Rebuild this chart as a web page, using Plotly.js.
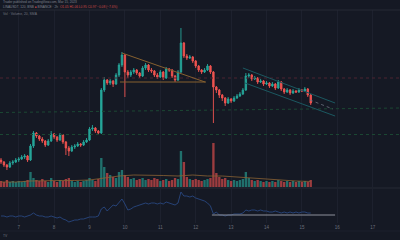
<!DOCTYPE html>
<html><head><meta charset="utf-8">
<script src="https://cdn.plot.ly/plotly-3.0.1.min.js"></script>
<style>html,body{margin:0;padding:0;background:#151924;}#chart{width:400px;height:240px;}</style>
</head><body><div id="chart"></div>
<script>
// 2h candles starting 2023-03-06 12:00
const firstCandle = Date.UTC(2023, 2, 6, 12);
const stepMs = 2 * 3600 * 1000;

const open = [0.40,0.38,0.35,0.33,0.37,0.38,0.40,0.41,0.43,0.44,
 0.40,0.54,0.67,0.64,0.61,0.59,0.55,0.59,0.66,0.63,
 0.60,0.65,0.58,0.52,0.49,0.53,0.54,0.56,0.55,0.58,
 0.60,0.71,0.72,0.69,0.67,1.10,1.20,1.17,1.19,1.16,
 1.25,1.35,1.45,1.28,1.25,1.28,1.30,1.27,1.24,1.32,
 1.35,1.30,1.29,1.25,1.23,1.28,1.22,1.31,1.30,1.24,
 1.20,1.28,1.57,1.44,1.42,1.43,1.39,1.34,1.30,1.28,
 1.30,1.34,1.28,1.13,1.10,1.05,1.02,0.97,1.01,0.99,
 1.02,1.04,1.06,1.10,1.24,1.25,1.21,1.22,1.18,1.19,
 1.16,1.17,1.14,1.16,1.12,1.18,1.11,1.08,1.10,1.07,
 1.09,1.08,1.10,1.09,1.11,1.05];
const close = [0.38,0.35,0.33,0.37,0.38,0.40,0.41,0.43,0.44,0.40,
 0.54,0.67,0.64,0.61,0.59,0.55,0.59,0.66,0.63,0.60,
 0.65,0.58,0.52,0.49,0.53,0.54,0.56,0.55,0.58,0.60,
 0.71,0.72,0.69,0.67,1.10,1.20,1.17,1.19,1.16,1.25,
 1.35,1.45,1.28,1.25,1.28,1.30,1.27,1.24,1.32,1.35,
 1.30,1.29,1.25,1.23,1.28,1.22,1.31,1.30,1.24,1.20,
 1.28,1.57,1.44,1.42,1.43,1.39,1.34,1.30,1.28,1.30,
 1.34,1.28,1.13,1.10,1.05,1.02,0.97,1.01,0.99,1.02,
 1.04,1.06,1.10,1.24,1.25,1.21,1.22,1.18,1.19,1.16,
 1.17,1.14,1.16,1.12,1.18,1.11,1.08,1.10,1.07,1.09,
 1.08,1.10,1.09,1.11,1.05,0.97];
const high = [0.42,0.39,0.36,0.39,0.40,0.42,0.43,0.45,0.46,0.45,
 0.56,0.69,0.68,0.65,0.63,0.60,0.61,0.69,0.67,0.64,
 0.67,0.66,0.59,0.54,0.55,0.56,0.58,0.57,0.60,0.62,
 0.73,0.75,0.73,0.70,1.12,1.23,1.21,1.21,1.20,1.27,
 1.37,1.48,1.46,1.30,1.30,1.32,1.31,1.28,1.34,1.37,
 1.36,1.32,1.30,1.27,1.30,1.29,1.33,1.32,1.31,1.25,
 1.30,1.72,1.58,1.46,1.45,1.44,1.40,1.35,1.31,1.32,
 1.36,1.35,1.29,1.14,1.11,1.06,1.03,1.03,1.02,1.04,
 1.06,1.08,1.12,1.27,1.27,1.26,1.24,1.23,1.21,1.20,
 1.19,1.18,1.18,1.17,1.20,1.19,1.12,1.12,1.11,1.11,
 1.10,1.12,1.11,1.13,1.12,1.06];
const low = [0.36,0.33,0.30,0.32,0.35,0.37,0.38,0.40,0.41,0.38,
 0.39,0.52,0.62,0.59,0.57,0.53,0.54,0.58,0.61,0.58,
 0.59,0.56,0.45,0.44,0.48,0.51,0.53,0.53,0.54,0.57,
 0.59,0.69,0.67,0.65,0.66,1.08,1.15,1.15,1.13,1.15,
 1.23,1.33,1.03,1.22,1.23,1.26,1.25,1.22,1.23,1.30,
 1.28,1.27,1.23,1.21,1.22,1.20,1.21,1.28,1.22,1.18,
 1.19,1.27,1.42,1.40,1.41,1.37,1.32,1.28,1.26,1.27,
 1.29,1.26,0.77,1.07,1.02,0.99,0.94,0.96,0.97,0.98,
 1.01,1.03,1.05,1.09,1.22,1.19,1.20,1.16,1.17,1.14,
 1.15,1.12,1.13,1.10,1.11,1.09,1.06,1.07,1.05,1.06,
 1.07,1.07,1.08,1.08,1.03,0.95];
const volume = [6,5,7,5,6,5,6,5,6,7,
 15,9,7,6,8,6,5,9,6,5,
 7,6,8,9,6,5,6,5,6,7,
 9,7,6,8,29,20,14,12,10,9,
 15,17,12,10,8,9,7,8,9,7,
 8,7,9,8,6,7,8,6,7,9,
 8,36,25,10,8,7,8,7,6,7,
 8,9,44,14,10,8,9,7,6,7,
 6,7,8,15,9,7,6,7,6,5,
 6,5,6,5,7,6,5,6,5,6,
 5,6,5,6,5,7];
// volume moving average, read every 5th candle
const volMaIndex = [0,5,10,15,20,25,30,35,40,45,50,55,60,65,70,75,80,85,90,95,100,105];
const volMa = [5,5,6,6.5,6.5,6.5,7,9,11,12,12,11.5,11,12,11,11,10,9,7.5,6.5,6,5.5];
const oscillator = [7,7,6,7,7,6,7,7,6,7,8,
 10,8,7,7,6,6,7,6,5,6,4,3,1,
 2,3,3,4,4,5,6,6,6,7,
 14,16,12,15,18,17,20,24,19,13,
 14,16,17,18,19,20,19,20,20,19,
 20,19,21,20,19,18,20,31,27,27,26,27,25,
 24,23,22,20,17,9,11,8,8,7,
 8,8,9,9,9,10,13,12,13,13,12,13,12,12,
 11,11,12,11,10,11,10,11,10,11,10,11,11,10,10];
const oscLevel = 8;
const oscLevelTimes = ['2023-03-12 11:00','2023-03-15 22:30'];

// drawings
const triTopTimes = ['2023-03-09 22:00','2023-03-12 06:20'];
const triTopPrices = [1.47, 1.18];
const triBaseTimes = ['2023-03-09 20:40','2023-03-12 07:00'];
const triBasePrice = 1.18;
const chanUpTimes = ['2023-03-13 08:00','2023-03-15 22:30'];
const chanUpPrices = [1.32, 0.97];
const chanLoTimes = ['2023-03-13 09:30','2023-03-15 22:30'];
const chanLoPrices = [1.17, 0.84];
const projTimes = ['2023-03-15 05:30','2023-03-15 21:00'];
const projPrices = [1.00, 0.91];
const redLevel = 1.22;
const greenLevelA = [0.875, 0.92];
const greenLevelB = 0.655;

const xRange = ['2023-03-06 11:19','2023-03-17 18:31'];

const fmt = ms => new Date(ms).toISOString().slice(0,19).replace('T',' ');
const times = open.map((_, i) => fmt(firstCandle + i * stepMs));

const UP = '#26a69a', DOWN = '#ef5350';
const volColors = open.map((o, i) => close[i] >= o ? 'rgba(38,166,154,0.62)' : 'rgba(239,83,80,0.62)');

const traces = [
 {type:'bar', x:times, y:volume, yaxis:'y2', marker:{color:volColors, line:{width:0}}, hoverinfo:'skip'},
 {type:'scatter', mode:'lines', x:volMaIndex.map(i => times[i]), y:volMa, yaxis:'y2', line:{color:'#8a6234', width:0.8}, hoverinfo:'skip'},
 {type:'candlestick', x:times, open:open, high:high, low:low, close:close,
  increasing:{line:{color:UP, width:0.9}, fillcolor:UP},
  decreasing:{line:{color:DOWN, width:0.9}, fillcolor:DOWN},
  whiskerwidth:0, hoverinfo:'skip'},
 {type:'scatter', mode:'lines', x:times, y:oscillator, yaxis:'y3', line:{color:'#2b4c8c', width:0.8}, hoverinfo:'skip'}
];

const PH = 213, PT = 10;
const py = pix => (PT + PH - pix) / PH;   // paper y for a pixel row (layout only)

const shapes = [
 {type:'line', xref:'paper', yref:'paper', x0:0, x1:1, y0:1, y1:1, line:{color:'#262a35', width:1}},
 {type:'line', xref:'paper', yref:'paper', x0:0, x1:1, y0:py(188), y1:py(188), line:{color:'#262a35', width:1}},
 {type:'line', xref:'paper', yref:'paper', x0:0, x1:1, y0:py(231), y1:py(231), line:{color:'#1d212c', width:1}},
 {type:'line', xref:'paper', yref:'y', x0:0, x1:1, y0:redLevel, y1:redLevel, line:{color:'#4d2530', width:1, dash:'dot'}},
 {type:'line', xref:'paper', yref:'y', x0:0, x1:1, y0:greenLevelA[0], y1:greenLevelA[1], line:{color:'#1b4733', width:1, dash:'dot'}},
 {type:'line', xref:'paper', yref:'y', x0:0, x1:1, y0:greenLevelB, y1:greenLevelB, line:{color:'#1b4733', width:1, dash:'dot'}},
 {type:'line', xref:'x', yref:'y', x0:triTopTimes[0], x1:triTopTimes[1], y0:triTopPrices[0], y1:triTopPrices[1], line:{color:'#86602f', width:1}},
 {type:'line', xref:'x', yref:'y', x0:triBaseTimes[0], x1:triBaseTimes[1], y0:triBasePrice, y1:triBasePrice, line:{color:'#86602f', width:1}},
 {type:'line', xref:'x', yref:'y', x0:chanUpTimes[0], x1:chanUpTimes[1], y0:chanUpPrices[0], y1:chanUpPrices[1], line:{color:'#1b5860', width:1}},
 {type:'line', xref:'x', yref:'y', x0:chanLoTimes[0], x1:chanLoTimes[1], y0:chanLoPrices[0], y1:chanLoPrices[1], line:{color:'#1b5860', width:1}},
 {type:'line', xref:'x', yref:'y', x0:projTimes[0], x1:projTimes[1], y0:projPrices[0], y1:projPrices[1], line:{color:'#6f7480', width:0.8, dash:'dot'}},
 {type:'line', xref:'x', yref:'y3', x0:oscLevelTimes[0], x1:oscLevelTimes[1], y0:oscLevel, y1:oscLevel, line:{color:'#8e919b', width:1}}
];

const F = 'Liberation Sans, Arial, sans-serif';
const annotations = [
 {xref:'paper', yref:'paper', x:0.002, y:py(2), xanchor:'left', yanchor:'middle', showarrow:false,
  text:'Trader published on TradingView.com, Mar 15, 2023', font:{family:F, size:3.2, color:'#7f838f'}},
 {xref:'paper', yref:'paper', x:0.002, y:py(6.5), xanchor:'left', yanchor:'middle', showarrow:false,
  text:'<span style="color:#7f838f">LINAUSDT, 120, BNB</span> <span style="color:#ef5350">●</span> <span style="color:#7f838f">BINANCE · 2h</span>  <span style="color:#d04a48">O1.05 H1.06 L0.95 C0.97 −0.08 (−7.6%)</span>',
  font:{family:F, size:3.2, color:'#7f838f'}},
 {xref:'paper', yref:'paper', x:0.002, y:py(14), xanchor:'left', yanchor:'middle', showarrow:false,
  text:'Vol · Volume, 20, SMA', font:{family:F, size:3.4, color:'#6f737f'}},
 {xref:'paper', yref:'paper', x:0.002, y:py(236), xanchor:'left', yanchor:'middle', showarrow:false,
  text:'TV', font:{family:F, size:3.4, color:'#6f7380'}}
];

const layout = {
 width:400, height:240, margin:{l:0, r:0, t:10, b:17},
 paper_bgcolor:'#151924', plot_bgcolor:'#151924', showlegend:false, bargap:0.2,
 xaxis:{type:'date', range:xRange, anchor:'free', position:0, showgrid:true, gridcolor:'#1d212e', gridwidth:1,
  tickformat:'%-d', dtick:86400000, tick0:'2023-03-07', ticks:'', tickfont:{family:F, size:4.5, color:'#6a6e7a'},
  showline:false, zeroline:false, rangeslider:{visible:false}, fixedrange:true},
 yaxis:{domain:[0.169, 1], range:[0.13, 1.90], showgrid:false, showticklabels:false, zeroline:false, fixedrange:true},
 yaxis2:{overlaying:'y', range:[0, 177], visible:false, fixedrange:true},
 yaxis3:{domain:[0, 0.1596], range:[0, 34], showgrid:false, showticklabels:false, zeroline:false, fixedrange:true},
 shapes:shapes, annotations:annotations
};

Plotly.newPlot('chart', traces, layout, {staticPlot:true, displayModeBar:false});
</script></body></html>
